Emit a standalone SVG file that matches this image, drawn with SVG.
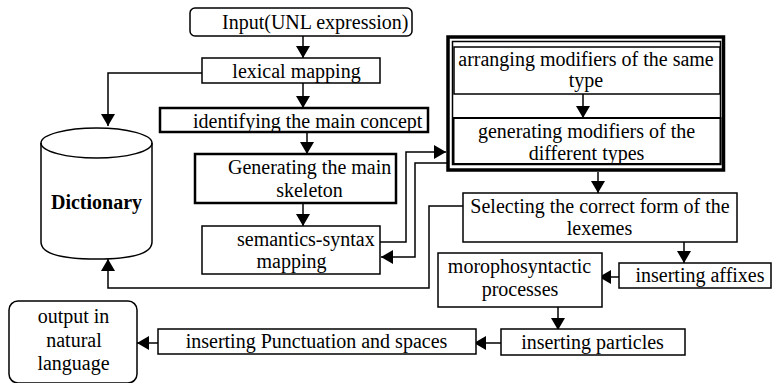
<svg xmlns="http://www.w3.org/2000/svg" width="772" height="383" viewBox="0 0 772 383">
<defs>
<style>
text{fill:#000}
.c{text-anchor:middle}
.b{fill:#fff;stroke:#000;stroke-width:1.5}
.t{fill:#fff;stroke:#000;stroke-width:2.5}
.ln{fill:none;stroke:#000;stroke-width:1.5}
</style>
<marker id="ah" markerWidth="14" markerHeight="14" viewBox="0 0 14 14" refX="12" refY="7" orient="auto" markerUnits="userSpaceOnUse">
<path d="M0,0 L12,7 L0,14 Z" fill="#000"/>
</marker>
</defs>
<rect width="772" height="383" fill="#fff"/>
<g id="connectors">
<path class="ln" d="M303,36 V58" marker-end="url(#ah)"/>
<path class="ln" d="M202,73 H108 V126" marker-end="url(#ah)"/>
<path class="ln" d="M303,83 V108" marker-end="url(#ah)"/>
<path class="ln" d="M307,132 V154" marker-end="url(#ah)"/>
<path class="ln" d="M303,203 V226" marker-end="url(#ah)"/>
<path class="ln" d="M380,242 H406 V152 H446" marker-end="url(#ah)"/>
<path class="ln" d="M447,163 H415 V257 H381" marker-end="url(#ah)"/>
<path class="ln" d="M583,94 V118" marker-end="url(#ah)"/>
<path class="ln" d="M598,172 V193" marker-end="url(#ah)"/>
<path class="ln" d="M463,206 H429 V288 H108 V259" marker-end="url(#ah)"/>
<path class="ln" d="M684,242 V263" marker-end="url(#ah)"/>
<path class="ln" d="M619,277 H599" marker-end="url(#ah)"/>
<path class="ln" d="M558,307 V330" marker-end="url(#ah)"/>
<path class="ln" d="M501,343 H474" marker-end="url(#ah)"/>
<path class="ln" d="M158,343 H137" marker-end="url(#ah)"/>
</g>
<g id="input">
<rect class="b" x="190" y="8" width="222" height="28" rx="5"/>
<text font-family="Liberation Serif" font-size="20" x="222" y="29">Input(UNL expression)</text>
</g>
<g id="lexical">
<rect class="b" x="202" y="58" width="178" height="25"/>
<text font-family="Liberation Serif" font-size="20" class="c" x="296.5" y="78">lexical mapping</text>
</g>
<g id="identifying">
<rect class="t" x="160" y="108" width="268" height="24"/>
<text font-family="Liberation Serif" font-size="20" x="193" y="127.5">identifying the main concept</text>
</g>
<g id="dictionary">
<path class="b" d="M41,143 A55.5,15 0 0 1 152,143 V242 Q152,259 96.5,259 Q41,259 41,242 Z"/>
<path class="ln" d="M41,143 A55.5,15 0 0 0 152,143"/>
<text font-family="Liberation Serif" font-size="20" class="c" x="96.5" y="209" font-weight="bold">Dictionary</text>
</g>
<g id="skeleton">
<rect class="t" x="195" y="154" width="201" height="49"/>
<text font-family="Liberation Serif" font-size="20" x="228" y="174">Generating the main</text>
<text font-family="Liberation Serif" font-size="20" class="c" x="309.5" y="197">skeleton</text>
</g>
<g id="semantics">
<rect class="b" x="202" y="226" width="178" height="48"/>
<text font-family="Liberation Serif" font-size="20" x="237" y="246">semantics-syntax</text>
<text font-family="Liberation Serif" font-size="20" class="c" x="291.5" y="268">mapping</text>
</g>
<g id="modifiers">
<rect fill="none" stroke="#000" stroke-width="3.5" x="448" y="37" width="275.5" height="133"/>
<rect class="ln" stroke-width="1" x="452.5" y="41.5" width="268" height="123"/>
</g>
<g id="arranging">
<rect class="b" x="454" y="47" width="266" height="47"/>
<text font-family="Liberation Serif" font-size="20" class="c" x="586" y="66">arranging modifiers of the same</text>
<text font-family="Liberation Serif" font-size="20" class="c" x="586" y="87">type</text>
</g>
<g id="generating">
<rect fill="#fff" stroke="#000" stroke-width="2" x="453.5" y="118" width="267" height="46"/>
<text font-family="Liberation Serif" font-size="20" class="c" x="586.5" y="138">generating modifiers of the</text>
<text font-family="Liberation Serif" font-size="20" class="c" x="586.5" y="160">different types</text>
</g>
<g id="selecting">
<rect class="b" x="463" y="193" width="274" height="49"/>
<text font-family="Liberation Serif" font-size="20" class="c" x="600" y="213">Selecting the correct form of the</text>
<text font-family="Liberation Serif" font-size="20" class="c" x="599.5" y="235">lexemes</text>
</g>
<g id="affixes">
<rect class="b" x="619" y="263" width="152" height="25"/>
<text font-family="Liberation Serif" font-size="20" class="c" x="700" y="282">inserting affixes</text>
</g>
<g id="morpho">
<rect class="b" x="438" y="253" width="164" height="54"/>
<text font-family="Liberation Serif" font-size="20" class="c" x="519.5" y="273">morophosyntactic</text>
<text font-family="Liberation Serif" font-size="20" class="c" x="520" y="296">processes</text>
</g>
<g id="particles">
<rect class="b" x="501" y="329" width="184" height="26"/>
<text font-family="Liberation Serif" font-size="20" class="c" x="592.5" y="349">inserting particles</text>
</g>
<g id="punctuation">
<rect class="b" x="158" y="329" width="318" height="25"/>
<text font-family="Liberation Serif" font-size="20" class="c" x="316.5" y="348">inserting Punctuation and spaces</text>
</g>
<g id="output">
<rect class="b" x="9" y="301" width="128" height="82" rx="9"/>
<text font-family="Liberation Serif" font-size="20" class="c" x="73.5" y="323">output in</text>
<text font-family="Liberation Serif" font-size="20" class="c" x="74" y="347">natural</text>
<text font-family="Liberation Serif" font-size="20" class="c" x="73.5" y="370">language</text>
</g>
</svg>
